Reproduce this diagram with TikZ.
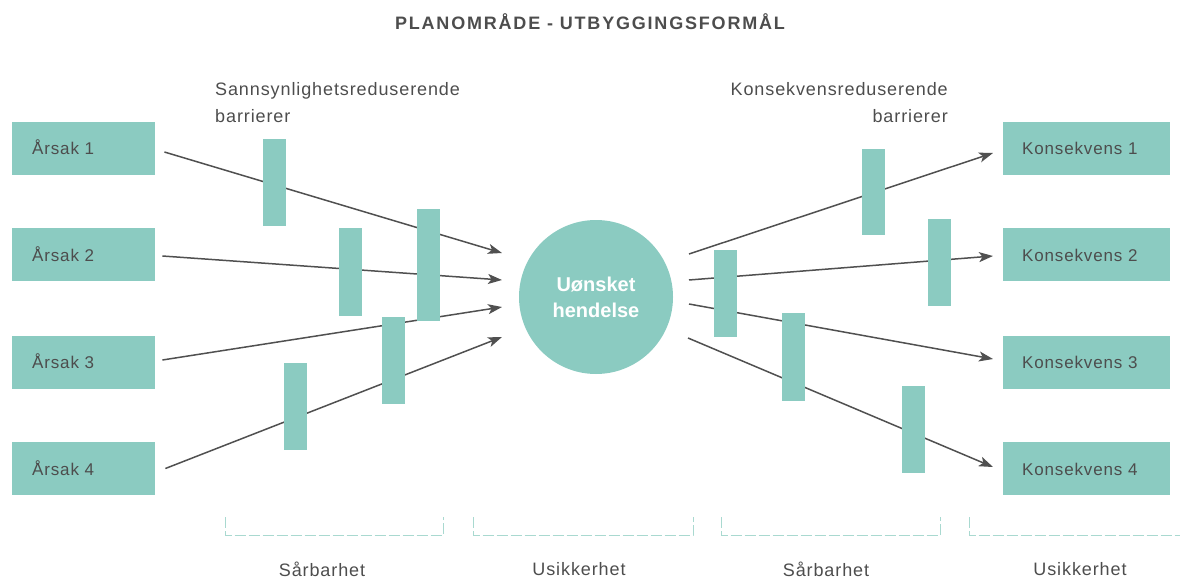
\documentclass[tikz,border=0pt]{standalone}
\usepackage{fontspec}
\setmainfont{Liberation Sans}
\newfontfamily\lblfont[LetterSpace=5]{Liberation Sans}
\newfontfamily\ttlfont[LetterSpace=10]{Liberation Sans}
\usetikzlibrary{arrows.meta}
\definecolor{teal1}{HTML}{8BCBC1}
\definecolor{dash1}{HTML}{A9D9D0}
\definecolor{txtc}{HTML}{4D4D4D}
\definecolor{arrc}{HTML}{505050}
\begin{document}
\begin{tikzpicture}[x=1pt,y=-1pt,
  box/.style={fill=teal1, anchor=west, minimum height=53pt, inner xsep=20pt, inner ysep=0pt,
    text height=13pt, text depth=0pt, align=left, text=txtc, font=\lblfont\fontsize{17}{20}\selectfont},
  bar/.style={fill=teal1, minimum width=23pt, inner sep=0pt},
  lbl/.style={text=txtc, inner sep=0pt, font=\lblfont\fontsize{18}{27}\selectfont},
  arr/.style={draw=arrc, line width=1.5pt, -{Stealth[length=14pt,width=10pt,inset=3.5pt]}},
  brk/.style={draw=dash1, line width=1pt, dash pattern=on 11pt off 3pt}
]
\useasboundingbox (0,0) rectangle (1180,580);

% title
\node[text=txtc, inner sep=0pt, font=\ttlfont\bfseries\fontsize{18}{20}\selectfont] (title) at (590,22) {PLANOMRÅDE - UTBYGGINGSFORMÅL};

% barrier labels
\node[lbl, anchor=north west, align=left] (lbar) at (215,82) {Sannsynlighetsreduserende\\barrierer};
\node[lbl, anchor=north east, align=right] (rbar) at (948,82) {Konsekvensreduserende\\barrierer};

% cause boxes
\node[box, text width=103pt] (a1) at (12,148.5) {Årsak 1};
\node[box, text width=103pt] (a2) at (12,254.5) {Årsak 2};
\node[box, text width=103pt] (a3) at (12,362) {Årsak 3};
\node[box, text width=103pt] (a4) at (12,468.5) {Årsak 4};

% consequence boxes
\node[box, text width=129pt, inner xsep=19pt] (k1) at (1003,148.5) {Konsekvens 1};
\node[box, text width=129pt, inner xsep=19pt] (k2) at (1003,254.5) {Konsekvens 2};
\node[box, text width=129pt, inner xsep=19pt] (k3) at (1003,362) {Konsekvens 3};
\node[box, text width=129pt, inner xsep=19pt] (k4) at (1003,468.5) {Konsekvens 4};

% event
\node[circle, fill=teal1, minimum size=154pt, inner sep=0pt, text=white, align=center,
  font=\bfseries\fontsize{20}{26}\selectfont] (ev) at (596,297) {Uønsket\\hendelse};

% arrow end points near the event
\coordinate (in1) at (502,253);
\coordinate (in2) at (502,280);
\coordinate (in3) at (502,307);
\coordinate (in4) at (502,337);
\coordinate (out1) at (689,254);
\coordinate (out2) at (689,280);
\coordinate (out3) at (689,304);
\coordinate (out4) at (688,338);

% arrows
\draw[arr] ([xshift=9pt,yshift=-3.5pt]a1.east) -- (in1);
\draw[arr] ([xshift=7pt,yshift=-1.5pt]a2.east) -- (in2);
\draw[arr] ([xshift=7pt,yshift=2pt]a3.east) -- (in3);
\draw[arr] ([xshift=10pt]a4.east) -- (in4);
\draw[arr] (out1) -- ([xshift=-10pt,yshift=-4.5pt]k1.west);
\draw[arr] (out2) -- ([xshift=-10pt,yshift=-1.5pt]k2.west);
\draw[arr] (out3) -- ([xshift=-10pt,yshift=3pt]k3.west);
\draw[arr] (out4) -- ([xshift=-10pt,yshift=1.5pt]k4.west);

% barriers
\node[bar, minimum height=87pt] (lb1) at (274.5,182.5) {};
\node[bar, minimum height=88pt] (lb2) at (350.5,272) {};
\node[bar, minimum height=112pt] (lb3) at (428.5,265) {};
\node[bar, minimum height=87pt] (lb4) at (393.5,360.5) {};
\node[bar, minimum height=87pt] (lb5) at (295.5,406.5) {};
\node[bar, minimum height=86pt] (rb1) at (873,192) {};
\node[bar, minimum height=87pt] (rb2) at (939.5,262.5) {};
\node[bar, minimum height=87pt] (rb3) at (725.5,293.5) {};
\node[bar, minimum height=88pt] (rb4) at (793.5,357) {};
\node[bar, minimum height=87pt] (rb5) at (913,429.5) {};

% brackets
\draw[brk] (225,517) -- (225,535.5) -- (443,535.5) -- (443,517);
\draw[brk] (473,517) -- (473,535.5) -- (693,535.5) -- (693,517);
\draw[brk] (721,517) -- (721,535.5) -- (940,535.5) -- (940,517);
\draw[brk] (969,517) -- (969,535.5) -- (1195,535.5) -- (1195,517);

% bottom labels
\node[lbl] (s1) at (322,569) {Sårbarhet};
\node[lbl] (u1) at (579,569) {Usikkerhet};
\node[lbl] (s2) at (826,569) {Sårbarhet};
\node[lbl] (u2) at (1080,569) {Usikkerhet};
\end{tikzpicture}
\end{document}
